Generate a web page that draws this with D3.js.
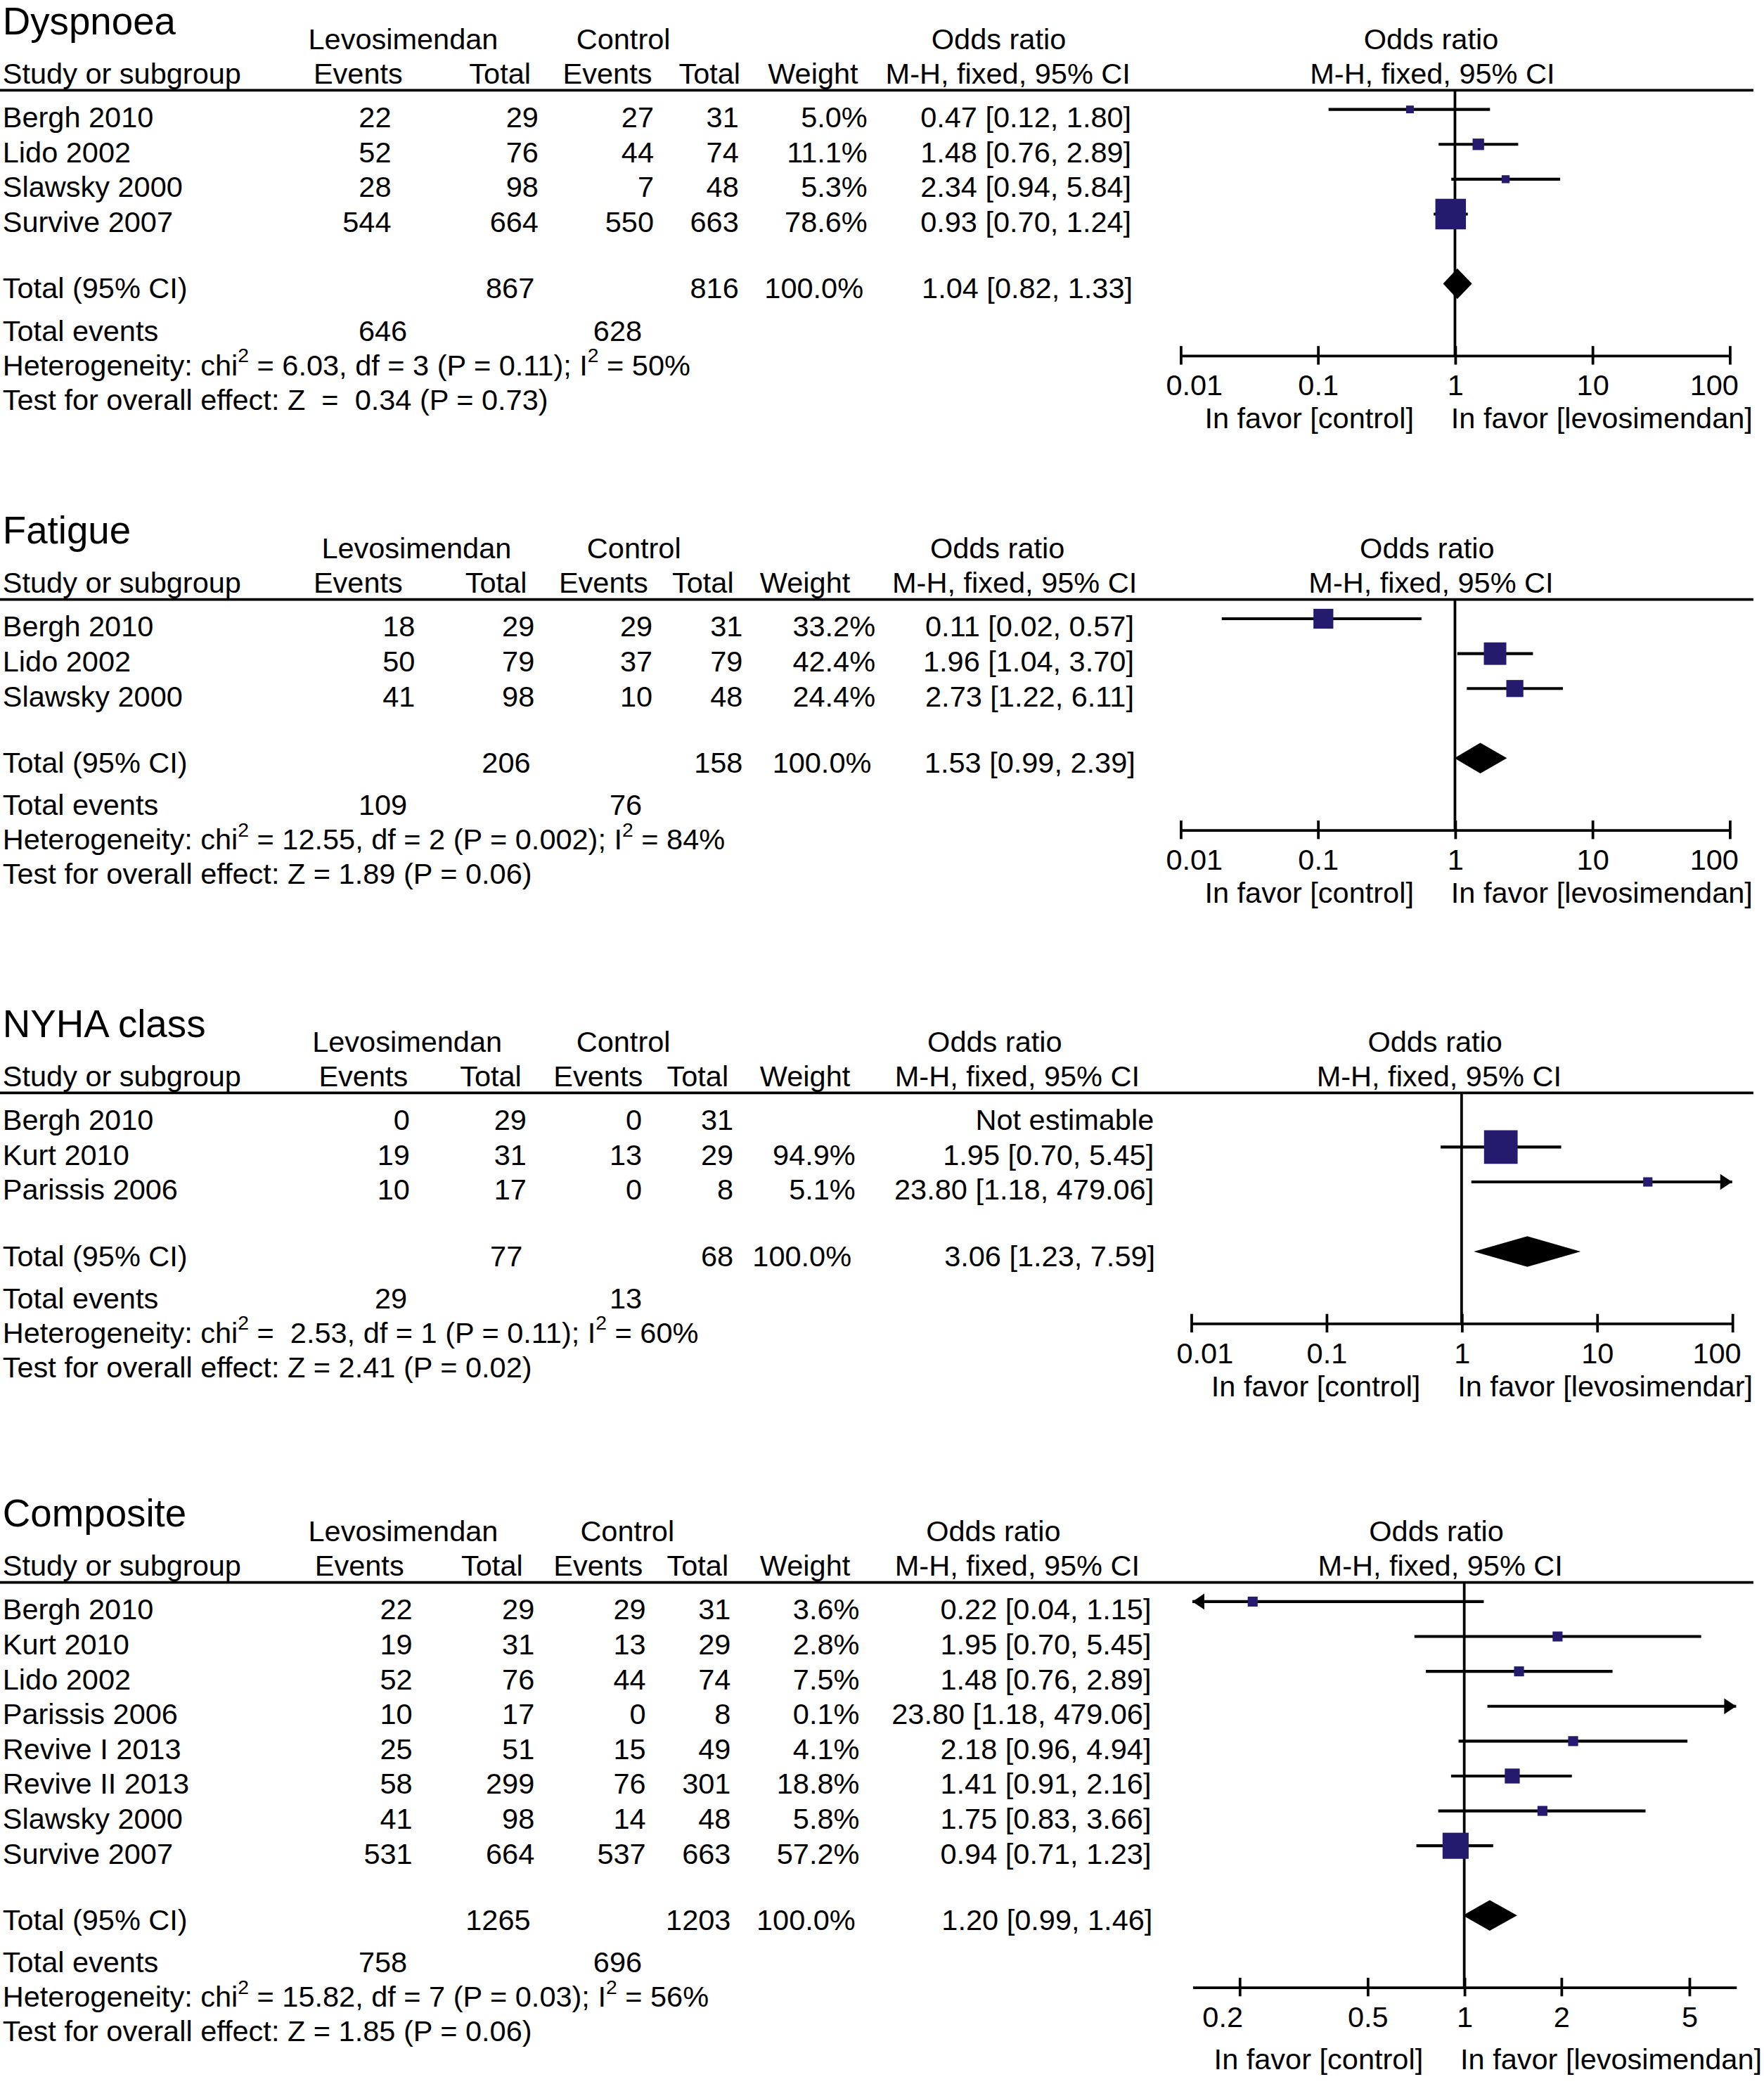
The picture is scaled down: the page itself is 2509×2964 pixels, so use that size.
<!DOCTYPE html>
<html>
<head>
<meta charset="utf-8">
<script src="https://cdn.jsdelivr.net/npm/d3@7"></script>
<style>
html, body { margin: 0; padding: 0; background: #fff; }
svg text { font-family: "Liberation Sans", Arial, Helvetica, sans-serif; fill: #000; white-space: pre; }
</style>
</head>
<body>
<div id="chart"></div>
<script>
// study rows: name, lev events, lev total, ctrl events, ctrl total, weight %, OR, lower, upper
var dyspnoeaRows = [
	["Bergh 2010", 22, 29, 27, 31, 5.0, 0.47, 0.12, 1.80],
	["Lido 2002", 52, 76, 44, 74, 11.1, 1.48, 0.76, 2.89],
	["Slawsky 2000", 28, 98, 7, 48, 5.3, 2.34, 0.94, 5.84],
	["Survive 2007", 544, 664, 550, 663, 78.6, 0.93, 0.70, 1.24]
];
// total row: lev events, lev total, ctrl events, ctrl total, weight, OR, lower, upper
var dyspnoeaTotal = [646, 867, 628, 816, 100.0, 1.04, 0.82, 1.33];
var dyspnoeaHet = "Heterogeneity: chi^2 = 6.03, df = 3 (P = 0.11); I^2 = 50%";
var dyspnoeaTest = "Test for overall effect: Z  =  0.34 (P = 0.73)";

var fatigueRows = [
	["Bergh 2010", 18, 29, 29, 31, 33.2, 0.11, 0.02, 0.57],
	["Lido 2002", 50, 79, 37, 79, 42.4, 1.96, 1.04, 3.70],
	["Slawsky 2000", 41, 98, 10, 48, 24.4, 2.73, 1.22, 6.11]
];
var fatigueTotal = [109, 206, 76, 158, 100.0, 1.53, 0.99, 2.39];
var fatigueHet = "Heterogeneity: chi^2 = 12.55, df = 2 (P = 0.002); I^2 = 84%";
var fatigueTest = "Test for overall effect: Z = 1.89 (P = 0.06)";

var nyhaRows = [
	["Bergh 2010", 0, 29, 0, 31, null, null, null, null],
	["Kurt 2010", 19, 31, 13, 29, 94.9, 1.95, 0.70, 5.45],
	["Parissis 2006", 10, 17, 0, 8, 5.1, 23.80, 1.18, 479.06]
];
var nyhaTotal = [29, 77, 13, 68, 100.0, 3.06, 1.23, 7.59];
var nyhaHet = "Heterogeneity: chi^2 =  2.53, df = 1 (P = 0.11); I^2 = 60%";
var nyhaTest = "Test for overall effect: Z = 2.41 (P = 0.02)";

var compositeRows = [
	["Bergh 2010", 22, 29, 29, 31, 3.6, 0.22, 0.04, 1.15],
	["Kurt 2010", 19, 31, 13, 29, 2.8, 1.95, 0.70, 5.45],
	["Lido 2002", 52, 76, 44, 74, 7.5, 1.48, 0.76, 2.89],
	["Parissis 2006", 10, 17, 0, 8, 0.1, 23.80, 1.18, 479.06],
	["Revive I 2013", 25, 51, 15, 49, 4.1, 2.18, 0.96, 4.94],
	["Revive II 2013", 58, 299, 76, 301, 18.8, 1.41, 0.91, 2.16],
	["Slawsky 2000", 41, 98, 14, 48, 5.8, 1.75, 0.83, 3.66],
	["Survive 2007", 531, 664, 537, 663, 57.2, 0.94, 0.71, 1.23]
];
var compositeTotal = [758, 1265, 696, 1203, 100.0, 1.20, 0.99, 1.46];
var compositeHet = "Heterogeneity: chi^2 = 15.82, df = 7 (P = 0.03); I^2 = 56%";
var compositeTest = "Test for overall effect: Z = 1.85 (P = 0.06)";

var wideTicks = [0.01, 0.1, 1, 10, 100];
var compositeTicks = [0.2, 0.5, 1, 2, 5];

var boxColor = "#241b6e";
var fontSize = 22;

//layout per panel: header line y, axis x range, column right edges, header x centers
var panels = [
	{title: "Dyspnoea", rows: dyspnoeaRows, total: dyspnoeaTotal, het: dyspnoeaHet, test: dyspnoeaTest,
	 ticks: wideTicks, domain: [0.01, 100], line: 68, x0: 890, x1: 1304, minBox: 5.5,
	 cols: [295, 406, 493, 557, 654, 853], head: [304, 470, 753, 1079, 270, 377, 458, 535, 613, 760, 1080],
	 favorLev: "In favor [levosimendan]", favorGap: 55},
	{title: "Fatigue", rows: fatigueRows, total: fatigueTotal, het: fatigueHet, test: fatigueTest,
	 ticks: wideTicks, domain: [0.01, 100], line: 452, x0: 890, x1: 1304, minBox: 6,
	 cols: [313, 403, 492, 560, 660, 855], head: [314, 478, 752, 1076, 270, 374, 455, 530, 607, 765, 1079],
	 favorLev: "In favor [levosimendan]", favorGap: 55},
	{title: "NYHA class", rows: nyhaRows, total: nyhaTotal, het: nyhaHet, test: nyhaTest,
	 ticks: wideTicks, domain: [0.01, 100], line: 824, x0: 898, x1: 1306, minBox: 7,
	 cols: [309, 397, 484, 553, 645, 870], head: [307, 470, 750, 1082, 274, 370, 451, 526, 607, 767, 1085],
	 favorLev: "In favor [levosimendar]", favorGap: 55},
	{title: "Composite", rows: compositeRows, total: compositeTotal, het: compositeHet, test: compositeTest,
	 ticks: compositeTicks, domain: [1 / 7, 7], line: 1193, x0: 899, x1: 1309, minBox: 7.5,
	 cols: [311, 403, 487, 551, 648, 868], head: [304, 473, 749, 1083, 271, 371, 451, 526, 607, 767, 1086],
	 favorLev: "In favor [levosimendan]", favorGap: 62}
];

const svg = d3.select("#chart")
	.append("svg")
	.attr("width", 2509)
	.attr("height", 2964)
	.attr("viewBox", "0 0 1330 1571.2")
	.attr("preserveAspectRatio", "none");

var boxSize = d3.scaleSqrt().domain([0, 100]).range([0, 26]);

function txt(g, x, y, s, anchor, size) {
	return g.append("text")
		.attr("x", x)
		.attr("y", y)
		.attr("text-anchor", anchor || "start")
		.attr("font-size", size || fontSize)
		.text(s);
}

//text with superscript "2" wherever ^2 appears
function superText(g, x, y, s) {
	var t = g.append("text").attr("x", x).attr("y", y).attr("font-size", fontSize);
	var parts = s.split("^2");
	parts.forEach(function(p, i) {
		t.append("tspan").attr("y", y).text(p);
		if (i < parts.length - 1) {
			t.append("tspan").attr("font-size", 15).attr("y", y - 10).text("2");
		}
	});
}

function orText(o, l, h) {
	return o.toFixed(2) + " [" + l.toFixed(2) + ", " + h.toFixed(2) + "]";
}

function drawPanel(p) {
	var g = svg.append("g");
	var L = p.line;
	var c = p.cols, hd = p.head;

	var x = d3.scaleLog().domain(p.domain).range([p.x0, p.x1]);
	var rowY = d3.scaleLinear().domain([0, 1]).range([L + 28, L + 54.3]);

	//headers
	txt(g, 2, L - 42, p.title, "start", 29);
	txt(g, hd[0], L - 31, "Levosimendan", "middle");
	txt(g, hd[1], L - 31, "Control", "middle");
	txt(g, hd[2], L - 31, "Odds ratio", "middle");
	txt(g, hd[3], L - 31, "Odds ratio", "middle");
	txt(g, 2, L - 5, "Study or subgroup");
	txt(g, hd[4], L - 5, "Events", "middle");
	txt(g, hd[5], L - 5, "Total", "middle");
	txt(g, hd[6], L - 5, "Events", "middle");
	txt(g, hd[7], L - 5, "Total", "middle");
	txt(g, hd[8], L - 5, "Weight", "middle");
	txt(g, hd[9], L - 5, "M-H, fixed, 95% CI", "middle");
	txt(g, hd[10], L - 5, "M-H, fixed, 95% CI", "middle");

	g.append("line")
		.attr("x1", 0).attr("x2", 1322)
		.attr("y1", L).attr("y2", L)
		.attr("stroke", "#000").attr("stroke-width", 2);

	//study rows
	p.rows.forEach(function(r, i) {
		var y = rowY(i);
		txt(g, 2, y, r[0]);
		txt(g, c[0], y, String(r[1]), "end");
		txt(g, c[1], y, String(r[2]), "end");
		txt(g, c[2], y, String(r[3]), "end");
		txt(g, c[3], y, String(r[4]), "end");
		if (r[5] != null) {
			txt(g, c[4], y, r[5].toFixed(1) + "%", "end");
			txt(g, c[5], y, orText(r[6], r[7], r[8]), "end");
		} else {
			txt(g, c[5], y, "Not estimable", "end");
		}
	});

	var lastY = rowY(p.rows.length - 1);
	var totY = lastY + 50;
	var evY = totY + 32;
	var hetY = evY + 26;
	var testY = hetY + 26;
	var axisY = testY - 41;

	var t = p.total;
	txt(g, 2, totY, "Total (95% CI)");
	txt(g, c[1] - 3, totY, String(t[1]), "end");
	txt(g, c[3], totY, String(t[3]), "end");
	txt(g, c[4] - 3, totY, t[4].toFixed(1) + "%", "end");
	txt(g, c[5] + 1, totY, orText(t[5], t[6], t[7]), "end");

	txt(g, 2, evY, "Total events");
	txt(g, 307, evY, String(t[0]), "end");
	txt(g, 484, evY, String(t[2]), "end");
	superText(g, 2, hetY, p.het);
	txt(g, 2, testY, p.test);

	//reference line at OR = 1
	g.append("line")
		.attr("x1", x(1)).attr("x2", x(1))
		.attr("y1", L).attr("y2", axisY)
		.attr("stroke", "#000").attr("stroke-width", 2);

	//CI lines, arrows and boxes
	var lo = p.domain[0], hi = p.domain[1];
	p.rows.forEach(function(r, i) {
		if (r[6] == null) return;
		var y = rowY(i) - 13.5;
		var a = Math.max(r[7], lo), b = Math.min(r[8], hi);
		g.append("line")
			.attr("x1", x(a)).attr("x2", x(b))
			.attr("y1", y).attr("y2", y)
			.attr("stroke", "#000").attr("stroke-width", 2.2);
		if (r[8] > hi) {
			g.append("path")
				.attr("d", "M" + (x(hi) - 9) + "," + (y - 6) + "L" + x(hi) + "," + y + "L" + (x(hi) - 9) + "," + (y + 6) + "Z")
				.attr("fill", "#000");
		}
		if (r[7] < lo) {
			g.append("path")
				.attr("d", "M" + (x(lo) + 9) + "," + (y - 6) + "L" + x(lo) + "," + y + "L" + (x(lo) + 9) + "," + (y + 6) + "Z")
				.attr("fill", "#000");
		}
		if (r[6] >= lo && r[6] <= hi) {
			var s = Math.max(boxSize(r[5]), p.minBox);
			g.append("rect")
				.attr("x", x(r[6]) - s / 2)
				.attr("y", y - s / 2)
				.attr("width", s)
				.attr("height", s)
				.attr("fill", boxColor);
		}
	});

	//pooled diamond
	var dy = totY - 11;
	g.append("polygon")
		.attr("points", [[x(t[6]), dy], [x(t[5]), dy - 11.5], [x(t[7]), dy], [x(t[5]), dy + 11.5]].join(" "))
		.attr("fill", "#000");

	//axis
	var axis = d3.axisBottom(x)
		.tickValues(p.ticks)
		.tickSize(7)
		.tickSizeOuter(0)
		.tickFormat(function(d) { return String(+d.toPrecision(3)); });

	var ag = g.append("g")
		.attr("transform", "translate(0," + axisY + ")")
		.call(axis);
	ag.attr("font-family", null).attr("font-size", null);
	ag.select(".domain").attr("stroke", "#000").attr("stroke-width", 2);
	ag.selectAll(".tick line").attr("y1", -7).attr("y2", 7).attr("stroke", "#000").attr("stroke-width", 2);
	ag.selectAll(".tick text")
		.attr("y", 30)
		.attr("dy", null)
		.attr("font-size", fontSize)
		.attr("fill", "#000");
	ag.select(".tick:first-of-type text").attr("dx", p.ticks[0] < 0.1 ? 10 : -13);
	ag.select(".tick:last-of-type text").attr("dx", p.ticks[0] < 0.1 ? -12 : 0);

	txt(g, x(1) - 31, axisY + p.favorGap, "In favor [control]", "end");
	txt(g, x(1) - 3, axisY + p.favorGap, p.favorLev, "start");
}

panels.forEach(drawPanel);
</script>
</body>
</html>
